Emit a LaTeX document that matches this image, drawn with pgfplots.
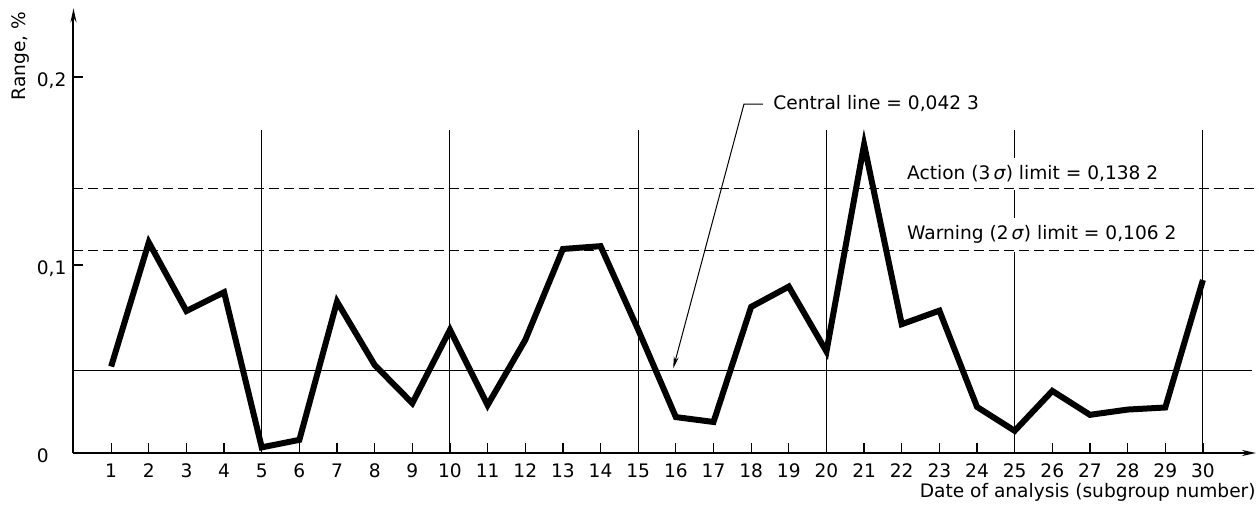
\documentclass[border=0pt]{standalone}
\usepackage{fontspec}
\setmainfont{DejaVu Sans}
\usepackage{pgfplots}
\pgfplotsset{compat=1.18}
\usetikzlibrary{arrows.meta}
\begin{document}
\fontsize{9.3}{11}\selectfont
\begin{tikzpicture}
\useasboundingbox (-36.75pt,-25.5pt) rectangle (592.75pt,226.5pt);
\begin{axis}[
  at={(0,0)}, anchor=south west,
  scale only axis, width=591.25pt, height=222.35pt,
  xmin=0, xmax=31.41, ymin=0, ymax=0.2365,
  axis lines=left,
  axis line style={line width=1pt, -{Stealth[length=7pt,width=3pt]}},
  clip=false,
  xtick={1,...,30},
  ytick={0,0.1,0.2},
  yticklabels={0,{0,1},{0,2}},
  tick align=inside,
  major tick length=5pt,
  tick style={line width=0.6pt, black},
  xticklabel style={yshift=-2.2pt},
  yticklabel style={anchor=base west, xshift=-18.5pt, yshift=-4.7pt, inner sep=0pt},
  /pgf/number format/assume math mode=true,
]
% vertical reference lines
\addplot[line width=0.5pt] coordinates {(5,0) (5,0.1718)};
\addplot[line width=0.5pt] coordinates {(10,0) (10,0.1718)};
\addplot[line width=0.5pt] coordinates {(15,0) (15,0.1718)};
\addplot[line width=0.5pt] coordinates {(20,0) (20,0.1718)};
\addplot[line width=0.5pt] coordinates {(25,0) (25,0.1718)};
\addplot[line width=0.5pt] coordinates {(30,0) (30,0.1718)};
% labels with white background
\node[anchor=base west, fill=white, inner xsep=1pt, inner ysep=4pt] at (axis cs:22.08,0.1452) {Action (3\,\textit{σ}) limit = 0,138 2};
\node[anchor=base west, fill=white, inner xsep=1pt, inner ysep=4pt] at (axis cs:22.08,0.1133) {Warning (2\,\textit{σ}) limit = 0,106 2};
% control limits
\addplot[line width=0.5pt, dash pattern=on 5pt off 2.5pt] coordinates {(0,0.1405) (31.48,0.1405)};
\addplot[line width=0.5pt, dash pattern=on 5pt off 2.5pt] coordinates {(0,0.1075) (31.48,0.1075)};
\addplot[line width=0.55pt] coordinates {(0,0.0440) (31.3,0.0440)};
% data
\addplot[line width=3pt, line join=miter] coordinates {
(1,0.0460) (2,0.1120) (3,0.0755) (4,0.0855) (5,0.0030) (6,0.0070)
(7,0.0805) (8,0.0468) (9,0.0265) (10,0.0655) (11,0.0255) (12,0.0601)
(13,0.1085) (14,0.1100) (15,0.0655) (16,0.0191) (17,0.0165) (18,0.0777)
(19,0.0885) (20,0.0540) (21,0.1640) (22,0.0685) (23,0.0757) (24,0.0245)
(25,0.0118) (26,0.0330) (27,0.0203) (28,0.0231) (29,0.0242) (30,0.0920)
};
% central line annotation
\draw[line width=0.5pt, -{Stealth[length=6pt,width=2.5pt]}] (axis cs:18.31,0.1856) -- (axis cs:17.81,0.1856) -- (axis cs:15.93,0.0450);
\node[anchor=west, inner sep=0pt] at (axis cs:18.58,0.1856) {Central line = 0,042 3};
% axis labels
\node[anchor=base east, inner sep=0pt] at (axis cs:31.41,-0.0234) {Date of analysis (subgroup number)};
\node[rotate=90, inner sep=0pt] at (axis cs:-1.40,0.2112) {Range, \%};
\end{axis}
\end{tikzpicture}
\end{document}
